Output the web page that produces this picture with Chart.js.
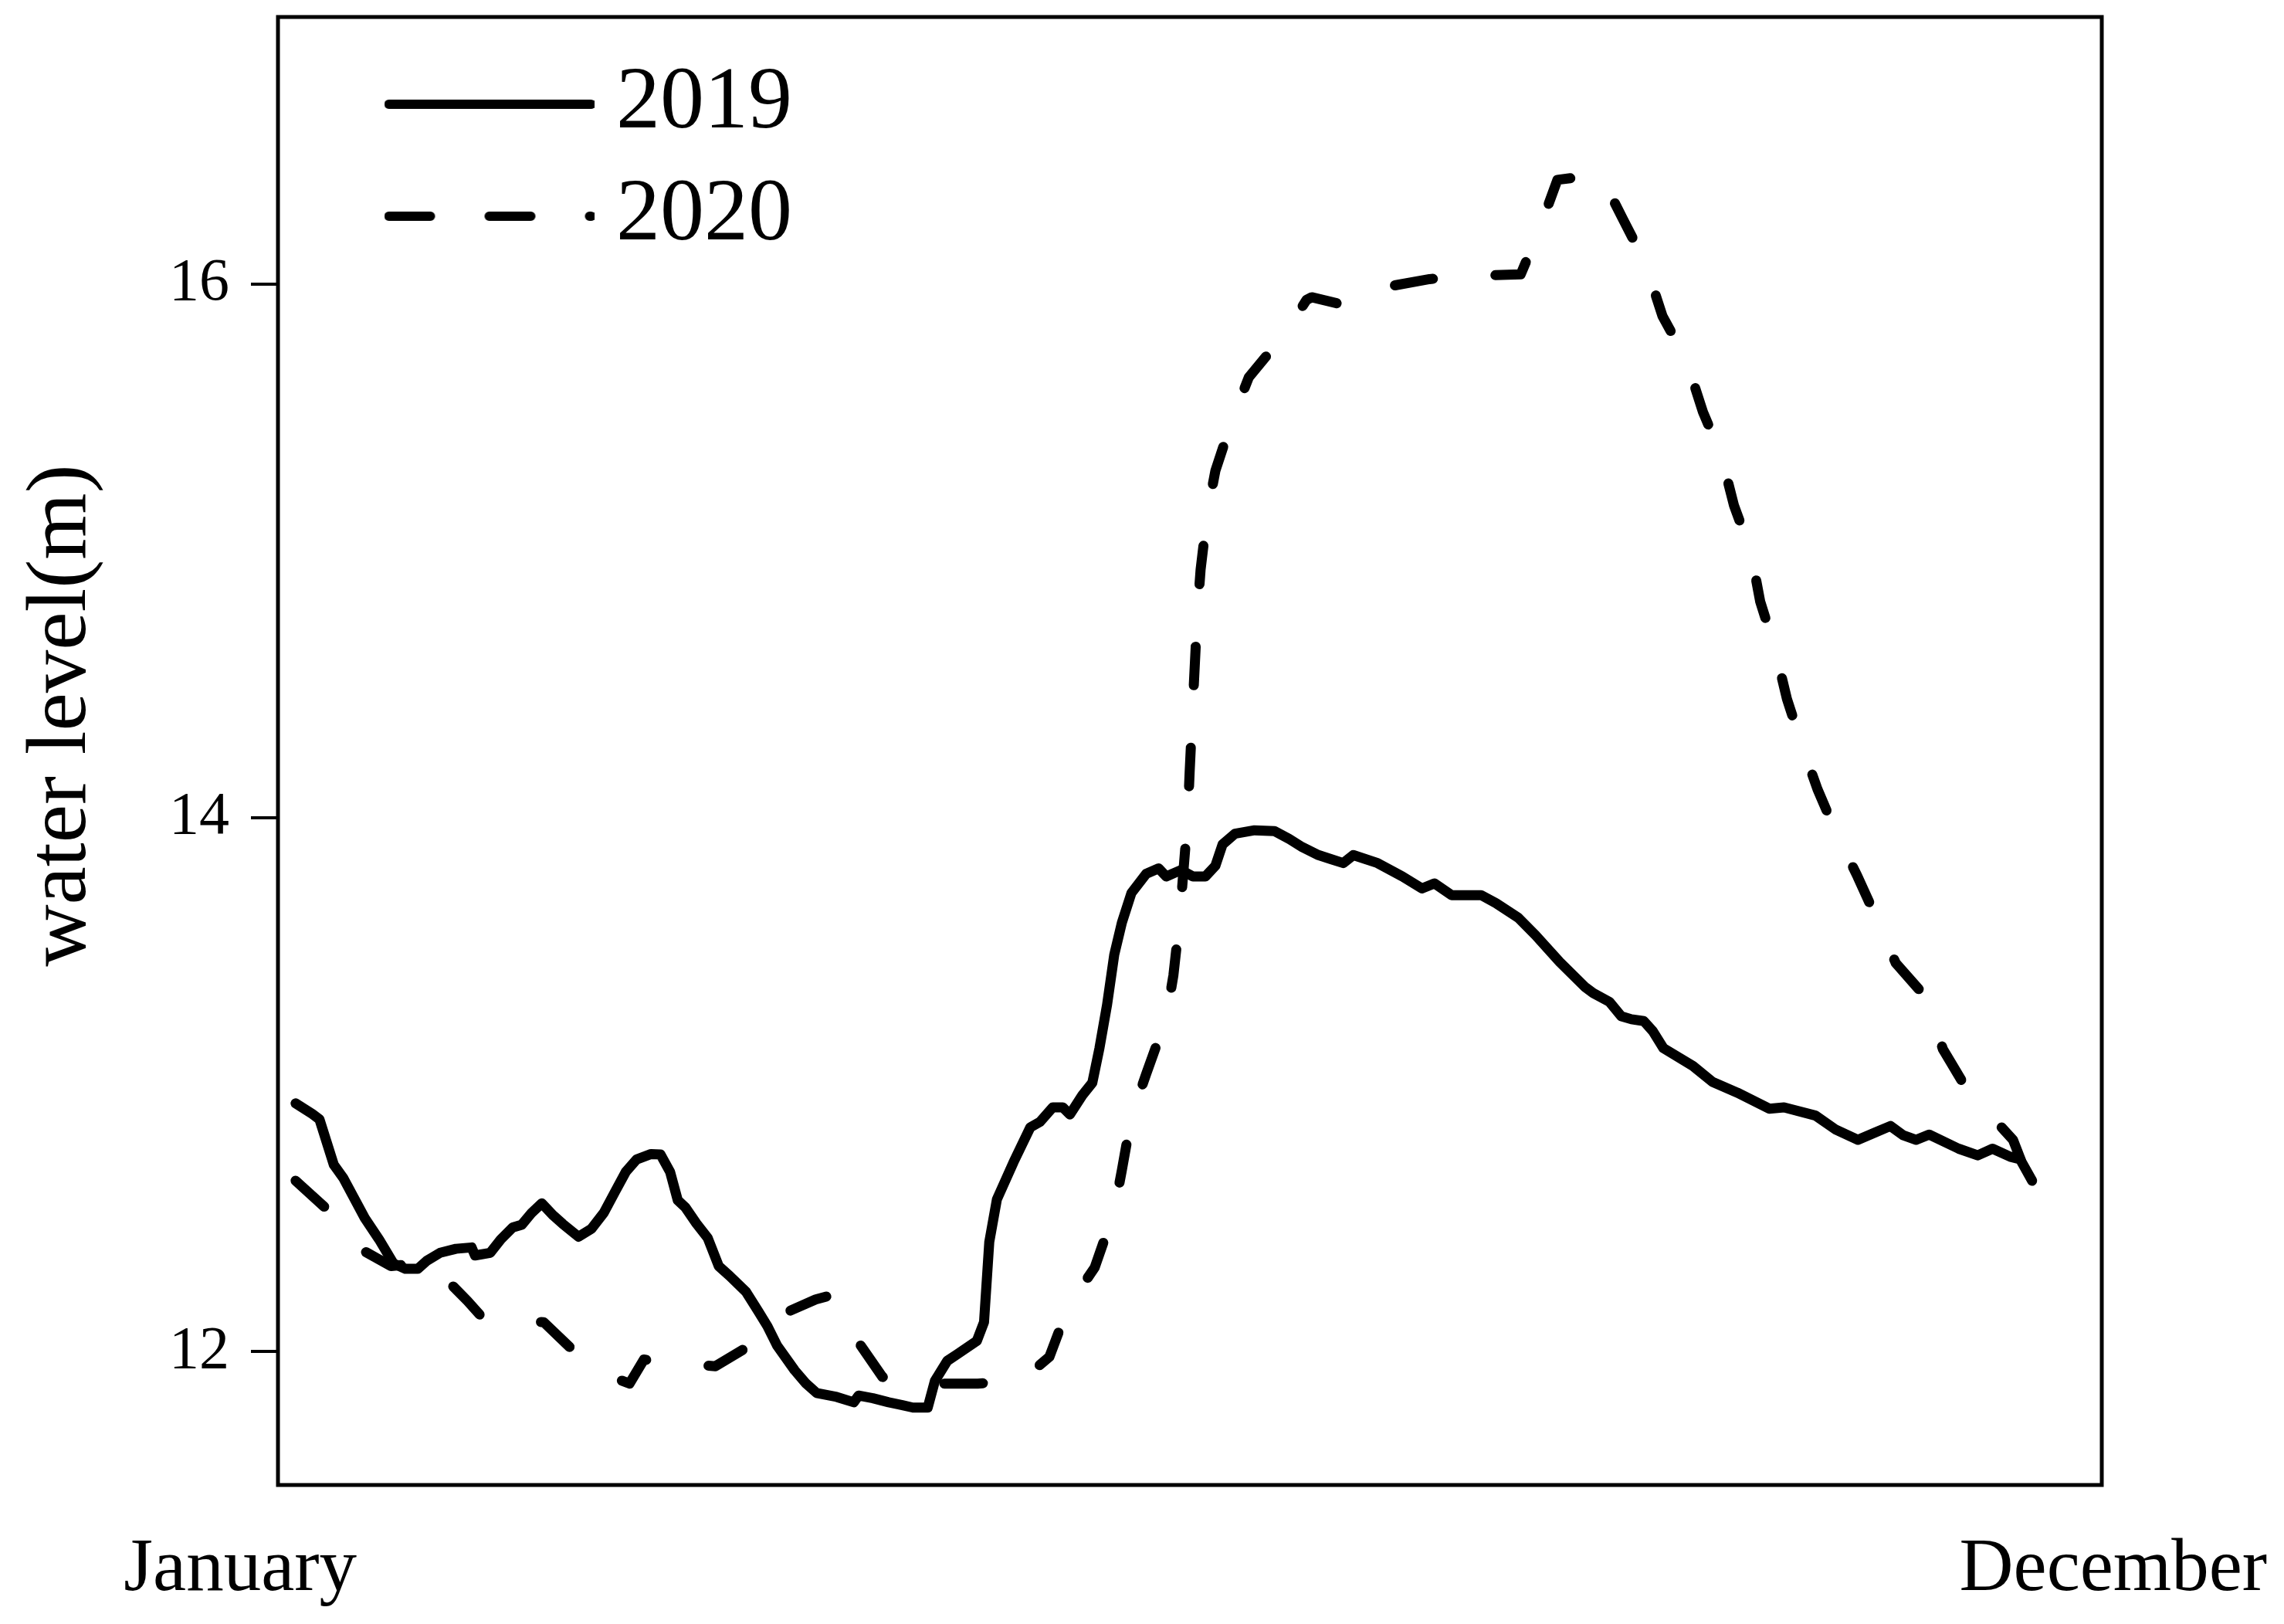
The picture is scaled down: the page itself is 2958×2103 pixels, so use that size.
<!DOCTYPE html>
<html>
<head>
<meta charset="utf-8">
<style>
  html, body { margin: 0; padding: 0; background: #fff; }
  canvas { display: block; }
</style>
<script src="https://cdn.jsdelivr.net/npm/chart.js@4/dist/chart.umd.min.js"></script>
</head>
<body>
<canvas id="levelChart" width="2958" height="2103"></canvas>
<script>
// Day of year and water level (m).
const days2019 = [1, 4.5, 6, 9, 11, 15.5, 18.5, 21.5, 24, 26.6, 28.5, 31.3, 34.6, 37.9, 38.6, 41.8, 44, 46.5, 48.4, 50.5,
    52.6, 55, 57, 60.3, 63, 65.6, 68, 70.2, 72.5, 75.5, 77.5, 79.5, 81.1, 82.7, 85, 87.4, 89.7, 92, 95.4, 97.9,
    99.9, 101.9, 105.6, 108, 110.2, 114.4, 118, 119, 122, 125.3, 128, 130.4, 133.5, 135, 137.6, 139.7, 143.8, 145.3, 146.4, 148,
    151.5, 155, 157, 159.7, 161.8, 163.3, 165.9, 168, 169.5, 171.1, 172.6, 174.2, 176.2, 179.3, 181.9, 183.5, 186.6, 189.1, 191.7, 193.8,
    195.3, 197.9, 202, 206.2, 209.3, 212, 215.4, 218, 220.6, 222.7, 227.8, 233, 237.1, 239.7, 243.3, 249.5, 252.6, 257.3, 260.9, 266,
    271.2, 273, 276.4, 278.9, 281, 283.6, 285.5, 287.7, 293.9, 298, 303.2, 309.9, 313, 319.6, 323.7, 328.5, 332, 335.3, 338, 340.7,
    343.4, 349.6, 353.6, 356.7, 360.4, 362.5, 365];
const level2019 = [12.93, 12.89, 12.87, 12.70, 12.65, 12.50, 12.42, 12.33, 12.31, 12.31, 12.34, 12.37, 12.385, 12.39, 12.36, 12.37, 12.42, 12.465, 12.475, 12.52,
    12.555, 12.51, 12.478, 12.43, 12.46, 12.52, 12.60, 12.673, 12.72, 12.74, 12.738, 12.673, 12.567, 12.54, 12.48, 12.425, 12.32, 12.283, 12.224, 12.153,
    12.095, 12.023, 11.93, 11.88, 11.845, 11.83, 11.81, 11.835, 11.825, 11.81, 11.80, 11.79, 11.79, 11.89, 11.965, 11.99, 12.04, 12.11, 12.41, 12.57,
    12.71, 12.84, 12.86, 12.915, 12.915, 12.888, 12.96, 13.007, 13.137, 13.30, 13.487, 13.607, 13.718, 13.79, 13.81, 13.78, 13.804, 13.78, 13.78, 13.82,
    13.90, 13.94, 13.953, 13.95, 13.92, 13.89, 13.86, 13.845, 13.83, 13.86, 13.83, 13.78, 13.735, 13.754, 13.71, 13.71, 13.68, 13.625, 13.56, 13.459,
    13.367, 13.343, 13.31, 13.256, 13.245, 13.238, 13.20, 13.137, 13.07, 13.01, 12.97, 12.91, 12.915, 12.884, 12.833, 12.793, 12.82, 12.845, 12.81, 12.793,
    12.813, 12.76, 12.735, 12.76, 12.73, 12.72, 12.64];

const days2020 = [1, 9, 14, 21, 29, 37, 40, 45, 53, 60, 68, 71, 74, 81, 89, 96, 103, 110, 113, 118,
    124, 128, 144, 153, 159, 163, 168.5, 172.5, 174.2, 176.2, 179.3, 183.5, 185, 186.3, 187.1, 188, 188.4, 189.2, 190, 190.7,
    192.1, 193.8, 197.3, 200.8, 208.2, 212.9, 214, 221, 230, 238.7, 248.2, 257.8, 261.2, 265.5, 274.5, 279.3, 283.9, 287.5, 292.4, 296,
    299.8, 302.5, 306, 308, 311, 313.6, 316.6, 320, 324, 328.4, 331.7, 336.4, 342.6, 346.3, 351.4, 361, 364.5];
const level2020 = [12.64, 12.51, 12.39, 12.32, 12.335, 12.19, 12.13, 12.12, 12.11, 11.99, 11.90, 11.88, 11.97, 11.955, 11.945, 12.02, 12.14, 12.195, 12.21, 12.06,
    11.905, 11.88, 11.88, 11.89, 11.98, 12.17, 12.315, 12.52, 12.68, 12.88, 13.04, 13.25, 13.41, 13.62, 13.80, 14.0, 14.17, 14.47, 14.76, 14.93,
    15.14, 15.30, 15.49, 15.65, 15.81, 15.94, 15.95, 15.92, 15.99, 16.018, 16.03, 16.036, 16.18, 16.39, 16.41, 16.24, 16.08, 15.88, 15.72, 15.52,
    15.36, 15.17, 15.0, 14.81, 14.64, 14.445, 14.28, 14.107, 13.94, 13.78, 13.65, 13.456, 13.33, 13.133, 12.98, 12.793, 12.632];

const seriesNames = ['2019', '2020'];
const yTicks = [12, 14, 16];
const xTickLabels = ['January', 'December'];
const xTickDays = [-10.6, 382];   // where the two month labels sit on the day axis

const FONT = 'Liberation Serif';
const LINE_W = 13;
Chart.defaults.font.family = FONT;
Chart.defaults.color = '#000';

const toPoints = (xs, ys) => xs.map((x, i) => ({ x, y: ys[i] }));

// Little line sample for the legend (Chart.js drops the dash on 'line' point styles).
function legendSample(dash) {
    const c = document.createElement('canvas');
    c.width = 272;
    c.height = 16;
    const g = c.getContext('2d');
    g.strokeStyle = '#000';
    g.lineWidth = 12;
    g.lineCap = 'round';
    g.setLineDash(dash);
    g.beginPath();
    g.moveTo(6, 8);
    g.lineTo(268, 8);
    g.stroke();
    return c;
}

// Frame round the plot area.
const frame = {
    id: 'frame',
    afterDraw(chart) {
        const { ctx, chartArea: a } = chart;
        ctx.save();
        ctx.strokeStyle = '#000';
        ctx.lineWidth = 5;
        ctx.strokeRect(a.left, a.top, a.right - a.left, a.bottom - a.top);
        ctx.restore();
    },
};

// Legend sits inside the plot (top left) and the y title a little above centre.
const placement = {
    id: 'placement',
    beforeUpdate(chart) {
        const lg = chart.legend;
        if (!lg || lg._inside) return;
        const fit = lg.fit.bind(lg);
        lg.fit = function () {
            fit();
            this._w = this.width;
            this._h = this.height;
            this.width = 0;
        };
        lg._inside = true;
    },
    afterLayout(chart) {
        const lg = chart.legend;
        lg.left = 495;
        lg.top = 47;
        lg.width = lg._w;
        lg.height = lg._h;
        lg.right = lg.left + lg._w;
        lg.bottom = lg.top + lg._h;
        // pixel mapping is already configured, this only moves the title
        const y = chart.scales.y;
        y.top -= 46;
        y.bottom -= 46;
    },
};

new Chart(document.getElementById('levelChart'), {
    type: 'line',
    data: {
        datasets: [{
            label: seriesNames[0],
            data: toPoints(days2019, level2019),
            borderColor: '#000',
            backgroundColor: '#000',
            borderWidth: LINE_W,
            borderCapStyle: 'round',
            borderJoinStyle: 'round',
            pointRadius: 0,
            pointStyle: legendSample([]),
            tension: 0,
        }, {
            label: seriesNames[1],
            data: toPoints(days2020, level2020),
            borderColor: '#000',
            backgroundColor: '#000',
            borderWidth: LINE_W,
            borderDash: [50, 81],
            borderCapStyle: 'round',
            borderJoinStyle: 'round',
            pointRadius: 0,
            pointStyle: legendSample([54, 76]),
            tension: 0,
        }],
    },
    options: {
        responsive: false,
        animation: false,
        layout: { padding: { top: 22, right: 236, left: 0, bottom: 0 } },
        plugins: {
            tooltip: { enabled: false },
            legend: {
                position: 'left',
                align: 'start',
                labels: {
                    usePointStyle: true,
                    pointStyleWidth: 215,
                    padding: 31,
                    color: '#000',
                    font: { family: FONT, size: 114 },
                },
            },
        },
        scales: {
            x: {
                type: 'linear',
                min: -2.7,
                max: 379.6,
                border: { display: false },
                grid: { display: false, drawTicks: false },
                afterBuildTicks: (axis) => { axis.ticks = xTickDays.map((v) => ({ value: v })); },
                afterFit: (axis) => {
                    axis.height = 180;
                    axis.paddingLeft = 0;
                    axis.paddingRight = 0;
                },
                ticks: {
                    autoSkip: false,
                    maxRotation: 0,
                    padding: 52,
                    font: { family: FONT, size: 97 },
                    callback: (value, i) => xTickLabels[i],
                },
            },
            y: {
                min: 11.5,
                max: 17.0,
                border: { display: false },
                grid: { display: true, drawOnChartArea: false, drawTicks: true, tickLength: 35, color: '#000', lineWidth: 4 },
                afterBuildTicks: (axis) => { axis.ticks = yTicks.map((v) => ({ value: v })); },
                afterFit: (axis) => {
                    axis.width = 360;
                    axis.paddingTop = 0;
                    axis.paddingBottom = 0;
                },
                ticks: {
                    padding: 28,
                    font: { family: FONT, size: 78 },
                },
                title: {
                    display: true,
                    text: 'water level(m)',
                    padding: { top: 14, bottom: 0 },
                    font: { family: FONT, size: 111 },
                },
            },
        },
    },
    plugins: [frame, placement],
});
</script>
</body>
</html>
